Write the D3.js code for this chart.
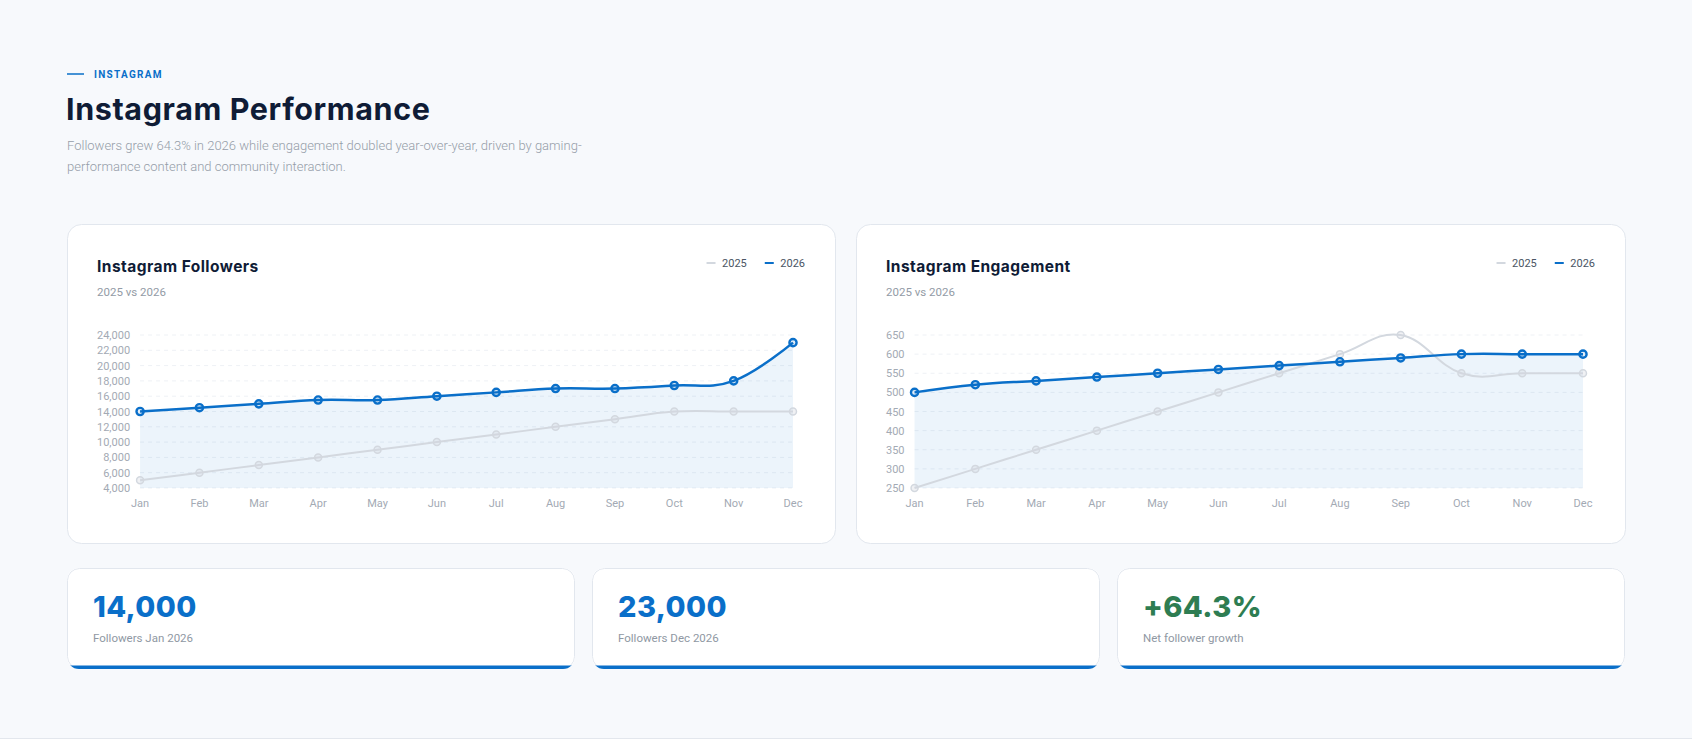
<!DOCTYPE html>
<html lang="en">
<head>
<meta charset="utf-8">
<script src="https://cdn.jsdelivr.net/npm/d3@7"></script>
<style>
  body { margin: 0; background: #f7f9fc; }
  svg { display: block; }
  .head { font-family: Inter, "Open Sans", sans-serif; }
  .body { font-family: Roboto, "Open Sans", sans-serif; }
</style>
<title>Instagram Performance</title>
</head>
<body>
<script>
  var width = 1692, height = 739;

  // data
  var months = ["Jan","Feb","Mar","Apr","May","Jun","Jul","Aug","Sep","Oct","Nov","Dec"];
  var seriesNames = ["2025", "2026"];

  var followers2025 = [5000,6000,7000,8000,9000,10000,11000,12000,13000,14000,14000,14000];
  var followers2026 = [14000,14500,15000,15500,15500,16000,16500,17000,17000,17400,18000,23000];
  var followerTicks = [4000,6000,8000,10000,12000,14000,16000,18000,20000,22000,24000];

  var engagement2025 = [250,300,350,400,450,500,550,600,650,550,550,550];
  var engagement2026 = [500,520,530,540,550,560,570,580,590,600,600,600];
  var engagementTicks = [250,300,350,400,450,500,550,600,650];

  var kpiValues = ["14,000", "23,000", "+64.3%"];
  var kpiLabels = ["Followers Jan 2026", "Followers Dec 2026", "Net follower growth"];
  var kpiColors = ["#0a6fc9", "#0a6fc9", "#2e7d52"];

  var blue = "#0a6fc9", grey = "#d3d8df", navy = "#0f1c36";

  var svg = d3.select("body").append("svg").attr("width", width).attr("height", height);
  svg.append("rect").attr("width", width).attr("height", height).attr("fill", "#f7f9fc");
  svg.append("line").attr("x1", 0).attr("x2", width).attr("y1", height - 0.5).attr("y2", height - 0.5)
    .attr("stroke", "#e3e7ed");

  // header
  svg.append("line").attr("x1", 67).attr("x2", 84).attr("y1", 74).attr("y2", 74)
    .attr("stroke", blue).attr("stroke-width", 1.5);
  svg.append("text").attr("class", "body").attr("x", 94).attr("y", 77.5)
    .attr("font-size", 10).attr("font-weight", 700).attr("letter-spacing", 1.3)
    .attr("fill", blue).text("INSTAGRAM");
  svg.append("text").attr("class", "head").attr("x", 66).attr("y", 120)
    .attr("font-size", 30.5).attr("font-weight", 700).attr("letter-spacing", 0.6)
    .attr("fill", navy).text("Instagram Performance");
  var sub = svg.append("text").attr("class", "body").attr("font-size", 13).attr("font-weight", 300)
    .attr("fill", "#959da8");
  sub.append("tspan").attr("x", 67).attr("y", 150)
    .text("Followers grew 64.3% in 2026 while engagement doubled year-over-year, driven by gaming-");
  sub.append("tspan").attr("x", 67).attr("y", 171)
    .text("performance content and community interaction.");

  function drawChart(x0, y0, w, h, title, d25, d26, ticks) {
    var g = svg.append("g").attr("transform", "translate(" + x0 + "," + y0 + ")");
    g.append("rect").attr("x", 0.5).attr("y", 0.5).attr("width", w - 1).attr("height", h - 1)
      .attr("rx", 14).attr("fill", "#fff").attr("stroke", "#e2e7ee");

    g.append("text").attr("class", "head").attr("x", 30).attr("y", 48)
      .attr("font-size", 15.5).attr("font-weight", 700).attr("letter-spacing", 0.45)
      .attr("fill", navy).text(title);
    g.append("text").attr("class", "body").attr("x", 30).attr("y", 72)
      .attr("font-size", 11.5).attr("fill", "#939ba6").text("2025 vs 2026");

    // legend, laid out from the right edge
    var right = w - 31;
    [[seriesNames[1], blue], [seriesNames[0], grey]].forEach(function(item) {
      var t = g.append("text").attr("class", "body").attr("x", right).attr("y", 43)
        .attr("text-anchor", "end").attr("font-size", 11).attr("font-weight", 400)
        .attr("fill", "#4a5563").text(item[0]);
      var tw = t.node().getComputedTextLength();
      g.append("line").attr("x1", right - tw - 15.5).attr("x2", right - tw - 6.5)
        .attr("y1", 39).attr("y2", 39).attr("stroke", item[1]).attr("stroke-width", 2);
      right = right - tw - 15.5 - 18;
    });

    var fmt = d3.format(",");
    var yLabels = g.append("g").attr("class", "body");
    var labels = yLabels.selectAll("text").data(ticks).enter().append("text")
      .attr("font-size", 11).attr("fill", "#a3aab4").attr("text-anchor", "end")
      .text(function(d) { return fmt(d); });
    var maxW = d3.max(labels.nodes(), function(n) { return n.getComputedTextLength(); });

    var left = 30 + maxW + 10, top = 111, bottom = 264, plotRight = w - 43;
    var x = d3.scalePoint().domain(months).range([left, plotRight]);
    var y = d3.scaleLinear().domain([ticks[0], ticks[ticks.length - 1]]).range([bottom, top]);

    labels.attr("x", left - 10).attr("y", function(d) { return y(d) + 4; });

    g.append("g").selectAll("line").data(ticks).enter().append("line")
      .attr("x1", left).attr("x2", plotRight)
      .attr("y1", function(d) { return y(d); }).attr("y2", function(d) { return y(d); })
      .attr("stroke", "#eef1f5").attr("stroke-dasharray", "4,4");

    g.append("g").attr("class", "body").selectAll("text").data(months).enter().append("text")
      .attr("x", function(d) { return x(d); }).attr("y", 283)
      .attr("text-anchor", "middle").attr("font-size", 11).attr("fill", "#a3aab4")
      .text(function(d) { return d; });

    var curve = d3.curveCardinal.tension(-0.2);
    var area = d3.area().x(function(d, i) { return x(months[i]); })
      .y0(bottom).y1(function(d) { return y(d); }).curve(curve);
    var line = d3.line().x(function(d, i) { return x(months[i]); })
      .y(function(d) { return y(d); }).curve(curve);

    g.append("path").datum(d26).attr("d", area).attr("fill", "rgba(10,111,201,0.08)");

    g.append("path").datum(d25).attr("d", line).attr("fill", "none")
      .attr("stroke", grey).attr("stroke-width", 2);
    g.append("g").selectAll("circle").data(d25).enter().append("circle")
      .attr("cx", function(d, i) { return x(months[i]); }).attr("cy", function(d) { return y(d); })
      .attr("r", 3.5).attr("fill", "rgba(211,216,223,0.35)").attr("stroke", grey).attr("stroke-width", 1.5);

    g.append("path").datum(d26).attr("d", line).attr("fill", "none")
      .attr("stroke", blue).attr("stroke-width", 2.5);
    g.append("g").selectAll("circle").data(d26).enter().append("circle")
      .attr("cx", function(d, i) { return x(months[i]); }).attr("cy", function(d) { return y(d); })
      .attr("r", 3.6).attr("fill", "rgba(10,111,201,0.12)").attr("stroke", blue).attr("stroke-width", 2.4);
  }

  drawChart(67, 224, 769, 320, "Instagram Followers", followers2025, followers2026, followerTicks);
  drawChart(856, 224, 770, 320, "Instagram Engagement", engagement2025, engagement2026, engagementTicks);

  // KPI cards: white rounded card with grey border and a blue bar along the bottom
  var kpiX = d3.scaleBand().domain(d3.range(kpiValues.length)).range([67, 1625]).paddingInner(17 / 525);
  var bw = kpiX.bandwidth(), kh = 101;
  svg.append("defs").append("clipPath").attr("id", "kpiClip").append("rect")
    .attr("width", bw).attr("height", kh).attr("rx", 12);
  var kpi = svg.append("g").selectAll("g").data(kpiValues).enter().append("g")
    .attr("transform", function(d, i) { return "translate(" + kpiX(i) + ",568)"; });
  var inner = kpi.append("g").attr("clip-path", "url(#kpiClip)");
  inner.append("rect").attr("width", bw).attr("height", kh).attr("fill", "#fff");
  inner.append("rect").attr("x", 0.5).attr("y", 0.5).attr("width", bw - 1).attr("height", kh - 1)
    .attr("rx", 12).attr("fill", "none").attr("stroke", "#e2e7ee");
  inner.append("rect").attr("y", kh - 3.5).attr("width", bw).attr("height", 3.5).attr("fill", blue);
  kpi.append("text").attr("class", "head").attr("x", 26).attr("y", 49)
    .attr("font-size", 29).attr("font-weight", 800).attr("letter-spacing", 0.4)
    .attr("fill", function(d, i) { return kpiColors[i]; }).text(function(d) { return d; });
  kpi.append("text").attr("class", "body").attr("x", 26).attr("y", 74)
    .attr("font-size", 11.5).attr("fill", "#8f98a3")
    .text(function(d, i) { return kpiLabels[i]; });
</script>
</body>
</html>
